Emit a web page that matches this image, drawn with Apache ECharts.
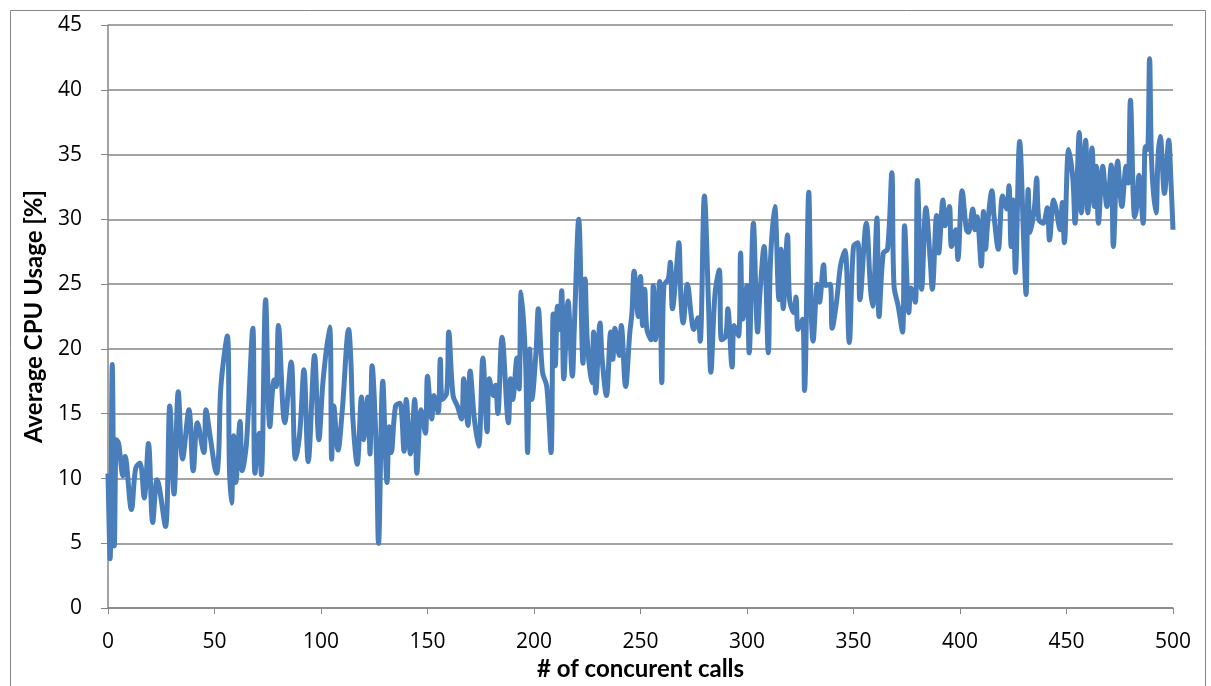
<!DOCTYPE html>
<html>
<head>
<meta charset="utf-8">
<title>Average CPU Usage</title>
<script src="https://cdn.jsdelivr.net/npm/echarts@6/dist/echarts.min.js"></script>
<style>
  html, body { margin: 0; padding: 0; background: #ffffff; }
  #chart { width: 1211px; height: 686px; }
</style>
</head>
<body>
<div id="chart"></div>
<script>
// Number of concurrent calls (x) and the measured average CPU usage in percent (y)
const calls = [
  0, 1, 2, 3, 4, 5, 7, 8, 11, 13, 15, 17, 19, 21, 23, 24, 27, 29, 31, 33, 35, 38, 40, 42, 45, 46, 48, 51,
  52, 53, 56, 57, 58, 59, 60, 62, 63, 65, 68, 69, 71, 72, 74, 76, 78, 79, 80, 83, 86, 88, 90, 92, 94, 97, 99, 101,
  104, 105, 106, 108, 110, 113, 114, 115, 117, 119, 120, 122, 123, 124, 126, 127, 129, 131, 132, 133, 135, 137, 139, 140, 142, 144, 145, 147, 149,
  150, 152, 153, 155, 156, 157, 159, 160, 162, 164, 166, 167, 169, 170, 172, 174, 176, 178, 179, 181, 182, 183, 185, 188, 189, 190, 192, 193, 194, 196, 197, 198, 199, 201, 202,
  204, 206, 208, 209, 210, 211, 212, 213, 214, 216, 218, 219, 221, 223, 224, 225, 227, 228, 229, 231, 232, 234, 236, 237, 238, 240, 241, 243, 245, 246, 247, 249, 250, 251,
  252, 253, 255, 256, 257, 259, 260, 261, 263, 264, 265, 267, 268, 269, 270, 272, 274, 275, 277, 278, 280, 282, 283, 285, 287, 288, 290, 291, 293, 294, 296, 297, 298, 300,
  301, 303, 305, 306, 308, 310, 311, 313, 315, 316, 317, 319, 320, 322, 323, 324, 326, 327, 329, 330, 331, 333, 334, 336, 337, 339, 340, 342, 344, 346, 348, 350,
  352, 353, 356, 358, 359, 361, 362, 364, 366, 368, 369, 371, 373, 374, 376, 377, 379, 380, 382, 384, 386, 387, 389, 390, 392, 393, 395, 396, 398, 399, 401,
  403, 404, 406, 407, 408, 410, 411, 412, 413, 415, 416, 418, 420, 422, 423, 424, 425, 426, 428, 430, 431, 432, 433, 435, 436, 437, 439, 441, 442, 444, 445, 447, 448, 449, 451,
  453, 454, 456, 457, 459, 460, 462, 463, 464, 465, 467, 469, 471, 472, 474, 476, 478, 479, 480, 482, 483, 484, 486, 487, 488, 489, 490, 492, 493, 494, 496, 498, 499, 500
];
const cpuUsage = [
  10.4, 3.8, 18.8, 4.8, 13.0, 12.7, 10.2, 11.7, 7.6, 10.8, 11.2, 8.5, 12.7, 6.6, 9.9, 9.4, 6.3, 15.6, 8.8, 16.7, 11.5, 15.3, 10.6, 14.3, 12.0, 15.3, 13.2, 10.4,
  12.0, 17.1, 21.0, 10.9, 8.1, 13.3, 9.7, 14.4, 10.6, 12.7, 21.6, 10.4, 13.5, 10.3, 23.8, 14.0, 17.6, 17.1, 21.8, 14.3, 19.0, 11.5, 13.5, 18.4, 11.3, 19.5, 13.0, 17.6,
  21.7, 11.5, 15.6, 12.2, 15.3, 21.5, 19.2, 14.5, 11.1, 16.3, 13.0, 16.3, 11.9, 18.7, 12.0, 5.0, 17.5, 9.7, 14.0, 12.0, 15.6, 15.8, 12.1, 16.1, 11.9, 16.1, 10.4, 15.3, 13.5,
  17.9, 14.6, 16.4, 15.1, 19.2, 16.1, 16.6, 21.3, 16.4, 15.6, 14.6, 17.7, 14.1, 18.3, 14.6, 12.5, 19.3, 13.6, 17.7, 16.4, 17.2, 15.0, 20.9, 14.3, 17.7, 16.1, 19.3, 16.9, 24.4, 19.2, 12.0, 20.0, 16.1, 19.9, 23.1,
  18.2, 17.1, 12.0, 22.7, 18.7, 23.3, 21.5, 24.5, 17.7, 23.7, 17.9, 22.0, 30.0, 18.9, 25.4, 20.7, 17.4, 21.3, 16.6, 22.0, 19.2, 16.4, 21.3, 19.2, 21.6, 19.5, 21.8, 17.1, 21.3, 22.8, 26.0, 22.5, 25.6, 21.8,
  24.6, 21.5, 20.7, 24.9, 20.7, 25.2, 17.4, 24.9, 25.4, 26.7, 23.1, 26.4, 28.2, 23.8, 22.0, 25.0, 22.3, 21.5, 22.4, 20.6, 31.8, 23.1, 18.2, 24.3, 26.1, 20.7, 21.0, 23.1, 18.6, 21.8, 21.0, 27.4, 22.3, 24.9,
  19.7, 29.7, 21.3, 24.1, 27.9, 19.7, 26.7, 31.0, 23.8, 27.7, 23.1, 28.8, 23.8, 22.8, 24.0, 21.5, 22.3, 16.8, 32.1, 23.6, 20.6, 25.0, 23.6, 26.5, 24.9, 25.0, 21.6, 23.6, 26.5, 27.6, 20.5, 27.9,
  28.2, 23.8, 29.7, 24.6, 23.3, 30.1, 22.5, 27.4, 27.7, 33.6, 24.9, 23.3, 21.3, 29.5, 22.8, 24.7, 23.6, 33.0, 24.6, 30.9, 26.9, 24.6, 30.3, 27.4, 31.5, 29.5, 31.0, 27.9, 29.2, 26.9, 32.2,
  29.2, 29.0, 30.8, 29.2, 30.2, 26.4, 30.6, 27.7, 29.7, 32.2, 30.2, 27.7, 31.8, 30.8, 32.6, 27.9, 31.5, 25.9, 36.0, 27.9, 24.2, 32.3, 29.0, 31.0, 33.2, 30.0, 29.7, 30.9, 28.4, 31.5, 30.9, 29.2, 31.3, 28.2, 35.4,
  33.1, 29.7, 36.7, 30.5, 36.1, 30.5, 35.5, 31.0, 34.1, 29.7, 34.1, 31.0, 34.2, 27.9, 34.5, 31.0, 34.1, 32.8, 39.2, 30.2, 31.0, 33.4, 29.7, 35.6, 35.4, 42.4, 34.3, 30.5, 34.9, 36.4, 32.0, 36.1, 33.1, 29.2
];

const xTitle = '# of concurent calls';
const yTitle = 'Average CPU Usage [%]';

const points = calls.map((c, i) => [c, cpuUsage[i]]);

const axisGray = '#868686';
const tickFont = '"Open Sans", "Liberation Sans", sans-serif';
const titleFont = 'Lato, "Liberation Sans", sans-serif';

const chart = echarts.init(document.getElementById('chart'), null, { renderer: 'canvas' });
chart.setOption({
  animation: false,
  backgroundColor: '#ffffff',
  graphic: [{
    type: 'rect',
    shape: { x: 10.5, y: 10.5, width: 1195, height: 700 },
    style: { fill: 'none', stroke: axisGray, lineWidth: 1 },
    silent: true,
    z: -1
  }],
  grid: { left: 108, top: 25, right: 38, bottom: 77, containLabel: false },
  xAxis: {
    type: 'value',
    min: 0, max: 500, interval: 50,
    name: xTitle,
    nameLocation: 'middle',
    nameGap: 47,
    nameTextStyle: { fontFamily: titleFont, fontWeight: 'bold', fontSize: 24, color: '#000' },
    axisLine: { show: true, lineStyle: { color: axisGray, width: 1.5 } },
    axisTick: { show: true, inside: false, length: 6, lineStyle: { color: axisGray, width: 1 } },
    axisLabel: { fontFamily: tickFont, fontSize: 21, color: '#000', margin: 23 },
    splitLine: { show: false }
  },
  yAxis: {
    type: 'value',
    min: 0, max: 45, interval: 5,
    name: yTitle,
    nameLocation: 'middle',
    nameGap: 62,
    nameRotate: 90,
    nameTextStyle: { fontFamily: titleFont, fontWeight: 'bold', fontSize: 24, color: '#000' },
    axisLine: { show: true, lineStyle: { color: axisGray, width: 1.5 } },
    axisTick: { show: true, inside: false, length: 7, lineStyle: { color: axisGray, width: 1 } },
    axisLabel: { fontFamily: tickFont, fontSize: 21, color: '#000', margin: 26 },
    splitLine: { show: true, lineStyle: { color: axisGray, width: 1.5 } }
  },
  series: [{
    type: 'line',
    data: points,
    showSymbol: false,
    smooth: 0.35,
    lineStyle: { color: '#4A7EBB', width: 5 },
    itemStyle: { color: '#4A7EBB' }
  }]
});
</script>
</body>
</html>
